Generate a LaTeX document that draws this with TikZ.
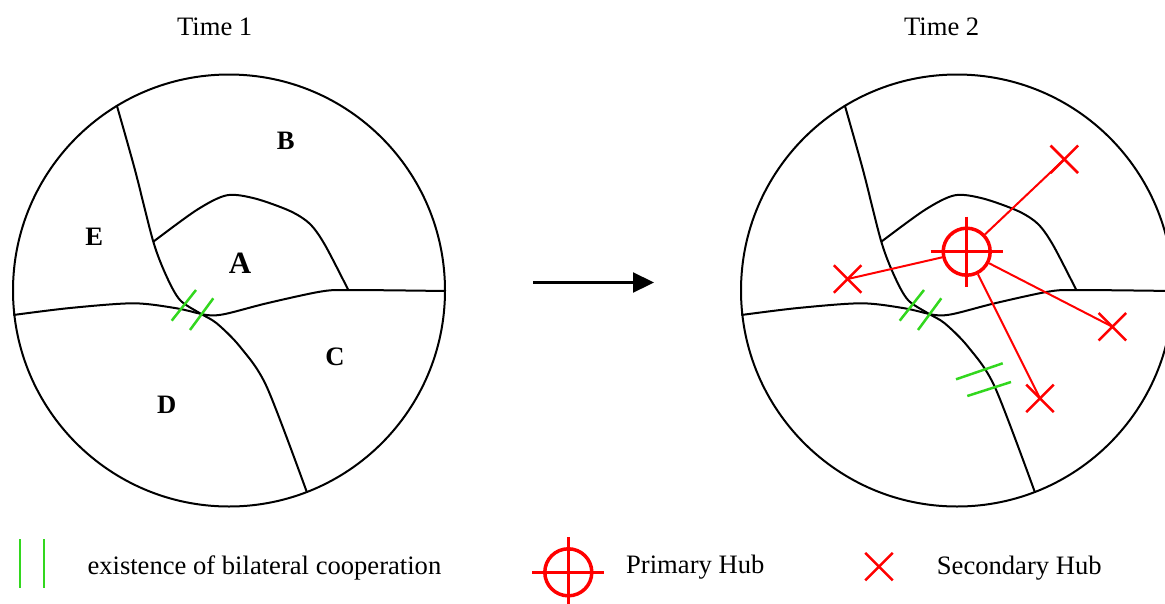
\documentclass[tikz,border=0pt]{standalone}
\usepackage{fontspec}
\setmainfont{Liberation Serif}
\usetikzlibrary{shapes.misc,arrows.meta}

\definecolor{coopgreen}{RGB}{50,215,30}

% la croix qui depasse du cercle du hub
\newcommand{\hubcross}[1]{%
  \draw[hubmark] (#1.center) ++(-36,0) -- ++(72,0);
  \draw[hubmark] (#1.center) ++(0,-35) -- ++(0,70);}

\begin{document}
\begin{tikzpicture}[
    x=1pt, y=-1pt,
    every node/.style={font=\fontsize{26.6}{30}\selectfont, inner sep=0pt},
    frontier/.style={line width=2pt},
    country/.style={font=\fontsize{26.6}{30}\selectfont\bfseries, anchor=base},
    hubmark/.style={red, line width=3pt},
    primary/.style={circle, draw=red, line width=3.5pt, minimum size=47pt},
    secondary/.style={cross out, draw=red, line width=2.5pt, minimum size=25pt},
    link/.style={red, line width=2pt},
    coop/.style={coopgreen, line width=2.5pt},
  ]
  \useasboundingbox (0,0) rectangle (1165,603);

  % les deux cartes
  \foreach \dx in {0,728} {
    \begin{scope}[xshift=\dx pt]
      \draw[frontier] (229,290.5) circle[radius=216];
      \draw[frontier] plot[smooth] coordinates {(116.7,105) (135,170) (153.3,241.7)
        (166.7,276.7) (180,300) (200,313.3) (216.7,323.3) (240,346.7) (266.7,386.7) (306.7,491.7)};
      \draw[frontier] plot[smooth] coordinates {(13.3,315) (70,308) (133.3,303.3)
        (176.7,308.3) (206.7,315) (225,314) (266.7,303.3) (320,291.7) (348.3,290) (445,291)};
      \draw[frontier] plot[smooth] coordinates {(153.3,241.7) (196.7,210) (226.7,195.3)
        (255,198.5) (290,211) (310,224) (325,245) (348.3,290)};
      \draw[coop] (171.7,320.7) -- (196,290);
      \draw[coop] (190,330) -- (213.3,298.3);
    \end{scope}
  }

  \node at (214.7,27) {Time 1};
  \node at (941.7,27) {Time 2};

  \node[country] (lA) at (240,273.3) {\fontsize{31}{34}\selectfont A};
  \node[country] (lB) at (285.7,149.3) {B};
  \node[country] (lC) at (335,365) {C};
  \node[country] (lD) at (166.7,413.3) {D};
  \node[country] (lE) at (94.3,245) {E};

  \coordinate (go) at (533,282.5);
  \coordinate (stop) at (654,282.5);
  \draw[line width=2.2pt, -{Triangle[length=21pt,width=20pt]}] (go) -- (stop);

  % time 2 : hubs
  \node[primary] (hub) at (966.7,251.7) {};
  \hubcross{hub}
  \node[secondary] (sec1) at (1064.3,159.3) {};
  \node[secondary] (sec2) at (847.7,279) {};
  \node[secondary] (sec3) at (1112.3,326.7) {};
  \node[secondary] (sec4) at (1040,398.3) {};
  \foreach \s in {sec1,sec2,sec3,sec4}
    \draw[link] (hub) -- (\s.center);
  \draw[coop] (956,379.3) -- (1002.7,363.3);
  \draw[coop] (967.3,396) -- (1011,382);

  % legende
  \draw[coop] (20,539) -- (20,588);
  \draw[coop] (44,539) -- (44,588);
  \node[anchor=base west] (tcoop) at (87.3,574.5) {existence of bilateral cooperation};
  \node[primary] (keyhub) at (568.3,572.3) {};
  \hubcross{keyhub}
  \node[anchor=base west] (thub) at (626,573.5) {Primary Hub};
  \node[secondary] (keysec) at (879,566.7) {};
  \node[anchor=base west] (tsec) at (936.7,574) {Secondary Hub};
\end{tikzpicture}
\end{document}
